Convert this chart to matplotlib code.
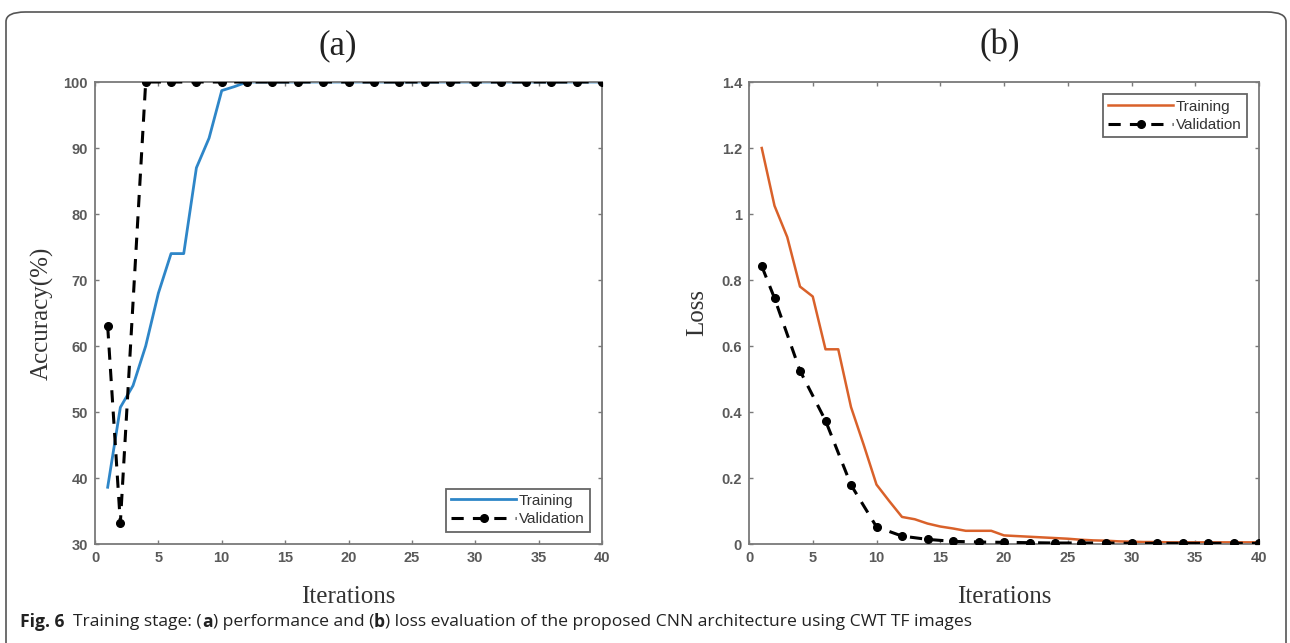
import matplotlib
matplotlib.use("Agg")
import matplotlib.pyplot as plt
from matplotlib.patches import FancyBboxPatch
from matplotlib.ticker import FuncFormatter

# ---------------- data ----------------
iters = list(range(1, 41))
acc_train = [38.6, 50.7, 54.0, 60.0, 68.0, 74.0, 74.0, 87.0, 91.5, 98.7,
             99.3, 100, 100, 100, 100, 100, 100, 100, 100, 100,
             100, 100, 100, 100, 100, 100, 100, 100, 100, 100,
             100, 100, 100, 100, 100, 100, 100, 100, 100, 100]
val_iters = [1, 2, 4, 6, 8, 10, 12, 14, 16, 18, 20, 22, 24, 26, 28, 30, 32, 34, 36, 38, 40]
acc_val = [63.0, 33.2, 100, 100, 100, 100, 100, 100, 100, 100, 100,
           100, 100, 100, 100, 100, 100, 100, 100, 100, 100]
loss_train = [1.20, 1.025, 0.93, 0.78, 0.75, 0.59, 0.59, 0.415, 0.30, 0.18,
              0.13, 0.082, 0.075, 0.062, 0.053, 0.047, 0.040, 0.040, 0.040, 0.026,
              0.024, 0.022, 0.020, 0.018, 0.016, 0.013, 0.011, 0.010, 0.008, 0.007,
              0.006, 0.006, 0.005, 0.005, 0.005, 0.005, 0.005, 0.005, 0.005, 0.005]
loss_val = [0.842, 0.745, 0.525, 0.374, 0.179, 0.052, 0.024, 0.014, 0.008, 0.006, 0.005,
            0.004, 0.003, 0.003, 0.003, 0.002, 0.002, 0.002, 0.002, 0.002, 0.002]
x_ticks = [0, 5, 10, 15, 20, 25, 30, 35, 40]
acc_ticks = [30, 40, 50, 60, 70, 80, 90, 100]
loss_ticks = [0, 0.2, 0.4, 0.6, 0.8, 1.0, 1.2, 1.4]
legend_labels = ["Training", "Validation"]
titles = ["(a)", "(b)"]
xlabel = "Iterations"
ylabels = ["Accuracy(%)", "Loss"]

W, H = 1290, 643
fig = plt.figure(figsize=(W / 100, H / 100), dpi=100)

def fx(px):
    return px / W

def fy(py):
    return 1 - py / H

# frame around figure
frame = FancyBboxPatch((fx(6), fy(680)), fx(1280), fy(12) - fy(680),
                       boxstyle="round,pad=0,rounding_size=0.015",
                       transform=fig.transFigure, fill=False,
                       edgecolor="#555555", linewidth=1.2, clip_on=False)
fig.patches.append(frame)

serif = ["Liberation Serif", "DejaVu Serif"]
sans = ["Liberation Sans", "DejaVu Sans"]
spine_col = "#7a7a7a"
tick_col = "#5a5a5a"

ax1 = fig.add_axes([fx(95), fy(544), fx(602) - fx(95), fy(82) - fy(544)])
ax2 = fig.add_axes([fx(749), fy(544), fx(1259) - fx(749), fy(82) - fy(544)])

blue = "#2E86C8"
orange = "#D9612A"

ax1.plot(iters, acc_train, color=blue, lw=2.0, label=legend_labels[0], zorder=2)
ax1.plot(val_iters, acc_val, color="black", lw=2.2, ls=(0, (4, 3)),
         marker="o", ms=5.5, label=legend_labels[1], zorder=3)
ax2.plot(iters, loss_train, color=orange, lw=1.8, label=legend_labels[0], zorder=2)
ax2.plot(val_iters, loss_val, color="black", lw=2.2, ls=(0, (4, 3)),
         marker="o", ms=5.5, label=legend_labels[1], zorder=3)

ax1.set_xlim(0, 40)
ax1.set_ylim(30, 100)
ax1.set_yticks(acc_ticks)
ax2.set_xlim(0, 40)
ax2.set_ylim(0, 1.4)
ax2.set_yticks(loss_ticks)
ax2.yaxis.set_major_formatter(FuncFormatter(lambda v, p: "%g" % round(v, 2)))

for ax in (ax1, ax2):
    ax.set_xticks(x_ticks)
    for s in ax.spines.values():
        s.set_color(spine_col)
        s.set_linewidth(1.3)
    ax.tick_params(direction="in", length=3, width=1.0, color=spine_col,
                   top=True, right=True, labelsize=10.5, labelcolor=tick_col, pad=5)
    for lab in ax.get_xticklabels() + ax.get_yticklabels():
        lab.set_family(sans)
        lab.set_fontweight("bold")
    leg_loc = "lower right" if ax is ax1 else "upper right"
    leg = ax.legend(loc=leg_loc, fancybox=False, framealpha=1, handlelength=4.2,
                    handletextpad=0.2, borderpad=0.35, labelspacing=0.3,
                    borderaxespad=0.8,
                    prop={"family": sans, "size": 11})
    leg.get_frame().set_edgecolor("#666666")
    leg.get_frame().set_linewidth(1.3)
    for t in leg.get_texts():
        t.set_color("#333333")

# axis labels
fig.text(fx(348), fy(597), xlabel, ha="center", va="center", fontsize=18,
         family=serif, color="#333333")
fig.text(fx(1004), fy(597), xlabel, ha="center", va="center", fontsize=18,
         family=serif, color="#333333")
fig.text(fx(42), fy(313), ylabels[0], ha="center", va="center", fontsize=18,
         family=serif, color="#333333", rotation=90)
fig.text(fx(697), fy(312), ylabels[1], ha="center", va="center", fontsize=18,
         family=serif, color="#333333", rotation=90)

# panel titles
fig.text(fx(338), fy(46), titles[0], ha="center", va="center", fontsize=25,
         family=serif, color="#222222")
fig.text(fx(1000), fy(46), titles[1], ha="center", va="center", fontsize=25,
         family=serif, color="#222222")

# caption
cap_font = ["Open Sans", "DejaVu Sans"]
cap_y = fy(622)
parts = [("Fig. 6", "bold"), ("  Training stage: (", "normal"), ("a", "bold"),
         (") performance and (", "normal"), ("b", "bold"),
         (") loss evaluation of the proposed CNN architecture using CWT TF images", "normal")]
fig.canvas.draw()
renderer = fig.canvas.get_renderer()
xpos = fx(20)
for txt, wt in parts:
    t = fig.text(xpos, cap_y, txt, ha="left", va="center", fontsize=12.6,
                 family=cap_font, fontweight=wt, color="#222222")
    bb = t.get_window_extent(renderer=renderer)
    xpos += bb.width / W

fig.savefig("out.png", dpi=100)
